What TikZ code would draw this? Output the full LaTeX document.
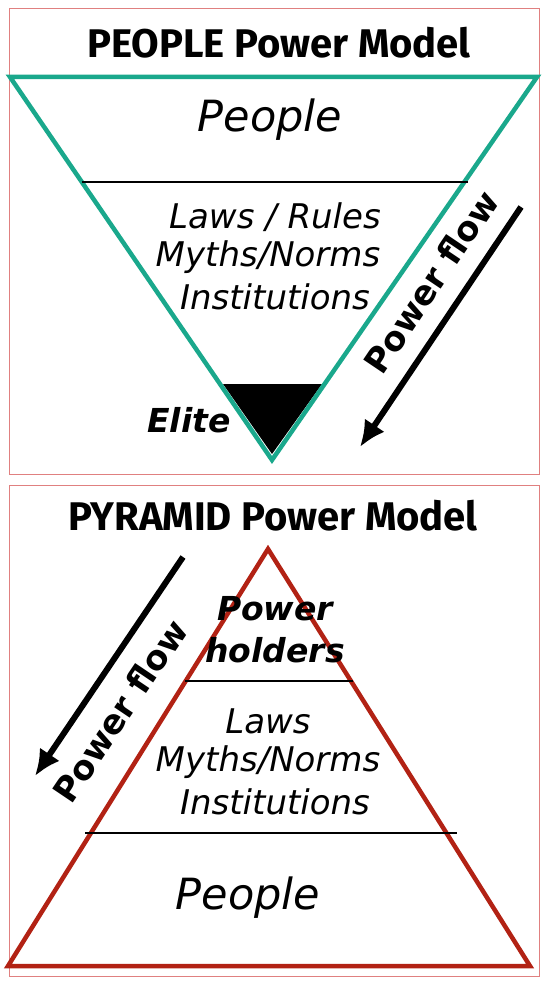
\documentclass[tikz,border=0pt]{standalone}
\usepackage{fontspec}
\setmainfont{DejaVu Sans}
\newfontfamily\titlefont{Fira Sans}
\usetikzlibrary{arrows.meta}
\definecolor{tealline}{RGB}{26,168,140}
\definecolor{pyrred}{RGB}{178,34,20}
\definecolor{framered}{RGB}{224,128,128}

\begin{document}
\begin{tikzpicture}[x=1pt, y=-1pt, >={Latex[length=26pt,width=24pt]},
    frame/.style={draw=framered, line width=0.8pt},
    title/.style={font=\titlefont\bfseries\fontsize{40}{46}\selectfont},
    layer/.style={font=\itshape\fontsize{34}{40}\selectfont},
    people/.style={font=\itshape\fontsize{43}{50}\selectfont},
    boldlayer/.style={font=\bfseries\itshape\fontsize{33}{38}\selectfont},
    flow/.style={font=\bfseries\fontsize{34}{40}\selectfont, rotate=56},
    powerarrow/.style={->, line width=6pt},
    divider/.style={line width=1.5pt}]

        \useasboundingbox (0,0) rectangle (544,984);

        % --- Cornici ---
        \draw[frame] (9,8) rectangle (539,474);
        \draw[frame] (9,485) rectangle (539,976);

        % ==========================================
        % 1. PEOPLE POWER MODEL
        % ==========================================
        \node[title] (peopletitle) at (279,43) {PEOPLE Power Model};

        % --- Triangolo rovesciato ---
        \coordinate (invL) at (10,77);
        \coordinate (invR) at (537,77);
        \coordinate (invB) at (272,460);

        % Elite (triangolo nero)
        \fill (223,384) -- (322,384) -- (272,454) -- cycle;
        \draw[tealline, line width=4.5pt, line join=miter] (invL) -- (invR) -- (invB) -- cycle;

        \draw[divider] (82,182) -- (468,182);

        \node[people] (topPeople) at (270,120) {People};
        \node[layer] (topLaws) at (275,217) {Laws / Rules};
        \node[layer] (topMyths) at (268,257) {Myths/Norms};
        \node[layer] (topInst) at (275,297) {Institutions};
        \node[boldlayer] (elite) at (189,420) {Elite};

        % --- Power flow ---
        \coordinate (topFlowStart) at (521,207);
        \coordinate (topFlowEnd) at (360,447);
        \draw[powerarrow] (topFlowStart) -- (topFlowEnd);
        \node[flow] (topFlow) at (431,282) {Power flow};

        % ==========================================
        % 2. PYRAMID POWER MODEL
        % ==========================================
        \node[title] (pyrtitle) at (273,516) {PYRAMID Power Model};

        % --- Piramide ---
        \coordinate (pyrT) at (268,549);
        \coordinate (pyrL) at (8,966);
        \coordinate (pyrR) at (530,966);
        \draw[pyrred, line width=4.5pt, line join=miter] (pyrT) -- (pyrR) -- (pyrL) -- cycle;

        \draw[divider] (185,681) -- (353,681);
        \draw[divider] (85,833) -- (457,833);

        \node[boldlayer] (holders1) at (275,609) {Power};
        \node[boldlayer] (holders2) at (275,650) {holders};
        \node[layer] (botLaws) at (268,721) {Laws};
        \node[layer] (botMyths) at (268,762) {Myths/Norms};
        \node[layer] (botInst) at (275,802) {Institutions};
        \node[people] (botPeople) at (248,898) {People};

        % --- Power flow ---
        \coordinate (botFlowStart) at (183,557);
        \coordinate (botFlowEnd) at (35,776);
        \draw[powerarrow] (botFlowStart) -- (botFlowEnd);
        \node[flow] (botFlow) at (120,711) {Power flow};

\end{tikzpicture}
\end{document}
